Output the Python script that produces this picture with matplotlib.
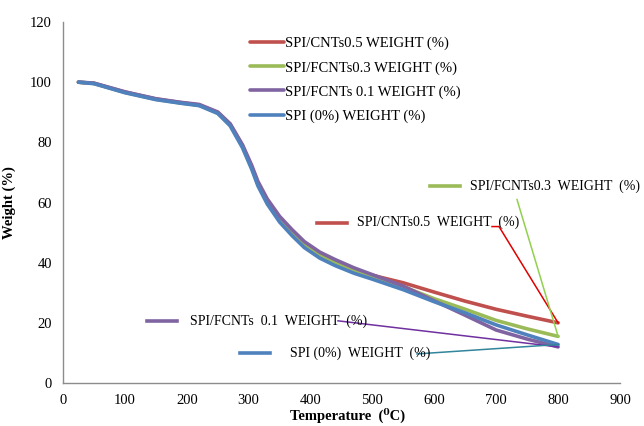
import matplotlib
matplotlib.use("Agg")
import matplotlib.pyplot as plt

plt.rcParams['font.family'] = ['Liberation Serif', 'DejaVu Serif']

temperature = [25, 50, 100, 150, 190, 220, 250, 270, 290, 305, 315, 330, 350, 370, 390, 415, 440, 470, 500, 550, 600, 650, 700, 750, 800]
spi_cnts05 = [100, 99.6, 96.7, 94.4, 93.2, 92.4, 89.9, 86.0, 78.8, 71.8, 66.3, 60.6, 54.8, 50.4, 46.4, 42.8, 40.3, 37.8, 35.8, 33.3, 30.2, 27.2, 24.5, 22.2, 20.0]
spi_fcnts03 = [100, 99.6, 96.6, 94.3, 93.1, 92.3, 89.8, 85.8, 78.6, 71.5, 66.0, 60.2, 54.3, 49.8, 45.8, 42.3, 39.8, 37.3, 35.2, 32.0, 28.0, 24.5, 20.8, 18.0, 15.5]
spi_fcnts01 = [100, 99.7, 96.8, 94.5, 93.3, 92.6, 90.1, 86.2, 79.2, 72.3, 67.0, 61.2, 55.4, 51.0, 47.0, 43.5, 41.0, 38.3, 36.0, 32.2, 27.3, 22.5, 17.6, 14.6, 12.0]
spi_0 = [100, 99.5, 96.5, 94.2, 93.0, 92.2, 89.6, 85.5, 78.2, 71.0, 65.5, 59.5, 53.5, 49.0, 45.0, 41.5, 39.0, 36.5, 34.5, 31.0, 27.0, 23.3, 19.3, 16.0, 12.8]

legend_labels = ["SPI/CNTs0.5 WEIGHT (%)", "SPI/FCNTs0.3 WEIGHT (%)",
                 "SPI/FCNTs 0.1 WEIGHT (%)", "SPI (0%) WEIGHT (%)"]
annot_labels = ["SPI/CNTs0.5  WEIGHT  (%)", "SPI/FCNTs0.3  WEIGHT  (%)",
                "SPI/FCNTs  0.1  WEIGHT  (%)", "SPI (0%)  WEIGHT  (%)"]
x_ticks = [0, 100, 200, 300, 400, 500, 600, 700, 800, 900]
y_ticks = [0, 20, 40, 60, 80, 100, 120]

series = [spi_cnts05, spi_fcnts03, spi_fcnts01, spi_0]
colors = ["#C0504D", "#9BBB59", "#8064A2", "#4F81BD"]
leader_colors = ["#E00000", "#92D050", "#7030A0", "#31859C"]

fig = plt.figure(figsize=(6.44, 4.26), dpi=100)
ax = fig.add_axes([63/644, 1-383/426, (620-63)/644, (383-22)/426])

lines = []
for s, c, lab in zip(series, colors, legend_labels):
    l, = ax.plot(temperature, s, color=c, lw=2.6, label=lab,
                 solid_capstyle='round', solid_joinstyle='round')
    lines.append(l)

ax.set_xlim(0, 900)
ax.set_ylim(0, 120)
ax.set_xticks(x_ticks)
ax.set_yticks(y_ticks)
ax.tick_params(length=0, labelsize=10.5, pad=8)
for sp in ['top', 'right']:
    ax.spines[sp].set_visible(False)
for sp in ['left', 'bottom']:
    ax.spines[sp].set_color('#8C8C8C')
    ax.spines[sp].set_linewidth(1.0)

ax.set_xlabel("Temperature  (\u2070C)", fontsize=10.5, fontweight='bold')
ax.set_ylabel("Weight (%)", fontsize=10.5, fontweight='bold')
ax.xaxis.set_label_coords(0.51, -0.068)
ax.yaxis.set_label_coords(-0.085, 0.5)

ax.legend(handles=lines, loc='upper left', bbox_to_anchor=(250/644, 1-37/426),
          bbox_transform=fig.transFigure, frameon=False, fontsize=10.5,
          handlelength=2.3, handletextpad=0.1, labelspacing=0.73, borderaxespad=0, borderpad=0)

def px2data(px, py):
    return ((px - 63) / (557/900), (383 - py) / 3.0)

# data labels with leader lines: (series, key start px, key y px, text start px, leader points px)
specs = [
    (0, 317, 223, 357, [(492, 227), (499, 227)]),
    (1, 430, 187, 470, [(517, 200)]),
    (2, 147, 321, 190, [(338, 321)]),
    (3, 240, 353, 290, [(417, 354)]),
]
end_x = temperature[-1]
for idx, kx, ky, tx, pts in specs:
    x0, y0 = px2data(kx, ky)
    x1, _ = px2data(kx + 30, ky)
    ax.plot([x0, x1], [y0, y0], color=colors[idx], lw=2.6, clip_on=False)
    txx, tyy = px2data(tx, ky)
    ax.text(txx, tyy, annot_labels[idx], fontsize=10, va='center', ha='left')
    xs = [px2data(*p)[0] for p in pts] + [end_x]
    ys = [px2data(*p)[1] for p in pts] + [series[idx][-1]]
    ax.plot(xs, ys, color=leader_colors[idx], lw=1.1, clip_on=False)

fig.savefig("out.png", dpi=100)
